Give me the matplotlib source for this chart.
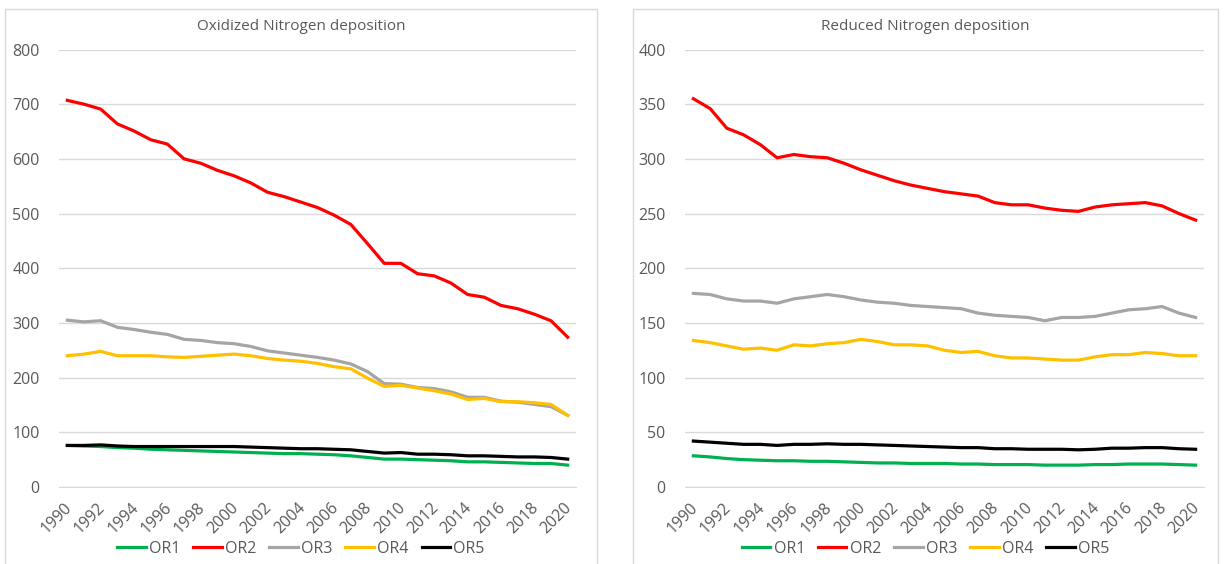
"""
Nitrogen deposition trends 1990-2020 for five regions (OR1-OR5):
oxidized and reduced nitrogen shown side by side.
"""

import numpy as np
import matplotlib
matplotlib.use("Agg")
import matplotlib.pyplot as plt
import matplotlib.transforms as mtransforms
from matplotlib.patches import Rectangle

# ------------------------------------------------------------------
# Data
# ------------------------------------------------------------------
years = list(range(1990, 2021))
series_names = ["OR1", "OR2", "OR3", "OR4", "OR5"]

# Oxidized nitrogen deposition
ox_or1 = [76, 75, 74, 72, 71, 69, 68, 67, 66, 65, 64, 63, 62, 61, 61, 60,
          59, 57, 54, 51, 51, 50, 49, 48, 46, 46, 45, 44, 43, 43, 40]
ox_or2 = [707, 700, 691, 664, 651, 635, 627, 600, 592, 579, 569, 556, 539,
          531, 521, 511, 497, 480, 445, 409, 409, 390, 386, 373, 352, 347,
          332, 326, 316, 304, 274]
ox_or3 = [305, 302, 304, 292, 288, 283, 279, 270, 268, 264, 262, 257, 249,
          245, 241, 237, 232, 225, 211, 189, 188, 182, 180, 174, 164, 164,
          157, 155, 151, 147, 131]
ox_or4 = [240, 243, 248, 240, 240, 240, 238, 237, 239, 241, 243, 240, 235,
          232, 230, 226, 220, 216, 199, 184, 186, 181, 176, 170, 160, 162,
          156, 156, 154, 151, 131]
ox_or5 = [76, 76, 77, 75, 74, 74, 74, 74, 74, 74, 74, 73, 72, 71, 70, 70,
          69, 68, 65, 62, 63, 60, 60, 59, 57, 57, 56, 55, 55, 54, 51]

# Reduced nitrogen deposition
red_or1 = [28.5, 27.5, 26, 25, 24.5, 24, 24, 23.5, 23.5, 23, 22.5, 22, 22,
           21.5, 21.5, 21.5, 21, 21, 20.5, 20.5, 20.5, 20, 20, 20, 20.5,
           20.5, 21, 21, 21, 20.5, 20]
red_or2 = [355, 346, 328, 322, 313, 301, 304, 302, 301, 296, 290, 285, 280,
           276, 273, 270, 268, 266, 260, 258, 258, 255, 253, 252, 256, 258,
           259, 260, 257, 250, 244]
red_or3 = [177, 176, 172, 170, 170, 168, 172, 174, 176, 174, 171, 169, 168,
           166, 165, 164, 163, 159, 157, 156, 155, 152, 155, 155, 156, 159,
           162, 163, 165, 159, 155]
red_or4 = [134, 132, 129, 126, 127, 125, 130, 129, 131, 132, 135, 133, 130,
           130, 129, 125, 123, 124, 120, 118, 118, 117, 116, 116, 119, 121,
           121, 123, 122, 120, 120]
red_or5 = [42, 41, 40, 39, 39, 38, 39, 39, 39.5, 39, 39, 38.5, 38, 37.5, 37,
           36.5, 36, 36, 35, 35, 34.5, 34.5, 34.5, 34, 34.5, 35.5, 35.5, 36,
           36, 35, 34.5]

line_colors = ["#00B050", "#FF0000", "#A5A5A5", "#FFC000", "#000000"]
text_color = "#595959"
grid_color = "#D9D9D9"
border_color = "#D9D9D9"

plt.rcParams["font.family"] = ["Open Sans", "DejaVu Sans"]

W, H = 1224, 564
fig = plt.figure(figsize=(W / 100, H / 100), dpi=100)


def px_box(x0, y0, x1, y1):
    """Pixel box (top-left origin) -> figure fraction [l, b, w, h]."""
    return [x0 / W, 1 - y1 / H, (x1 - x0) / W, (y1 - y0) / H]


# ------------------------------------------------------------------
# One chart panel
# ------------------------------------------------------------------
def draw_panel(frame, plot_box, title, data, ymax, ystep):
    # chart border
    fx0, fy0, fx1, fy1 = frame
    fig.add_artist(Rectangle((fx0 / W, 1 - fy1 / H), (fx1 - fx0) / W,
                             (fy1 - fy0) / H, transform=fig.transFigure,
                             fill=False, edgecolor=border_color, lw=1.0))

    ax = fig.add_axes(px_box(*plot_box))
    for name, values, color in zip(series_names, data, line_colors):
        ax.plot(years, values, color=color, lw=2.3, label=name,
                solid_joinstyle="round", zorder=3)

    ax.set_xlim(years[0] - 0.5, years[-1] + 0.5)
    ax.set_ylim(0, ymax)
    ax.set_yticks(np.arange(0, ymax + 1, ystep))
    ax.set_xticks(years[::2])
    ax.set_xticklabels([str(y) for y in years[::2]])
    ax.grid(axis="y", color=grid_color, lw=1.0, zorder=0)
    for side in ["top", "right", "left"]:
        ax.spines[side].set_visible(False)
    ax.spines["bottom"].set_color(grid_color)
    ax.tick_params(axis="both", length=0, colors=text_color, labelsize=11.5)
    ax.tick_params(axis="y", pad=14)
    ax.tick_params(axis="x", pad=13)

    shift = mtransforms.ScaledTranslation(2 / 100, 0, fig.dpi_scale_trans)
    for lbl in ax.get_xticklabels():
        lbl.set_rotation(45)
        lbl.set_ha("right")
        lbl.set_va("center")
        lbl.set_rotation_mode("anchor")
        lbl.set_transform(lbl.get_transform() + shift)

    fig.text(((fx0 + fx1) / 2) / W, 1 - 27 / H, title, ha="center",
             va="center", color=text_color, fontsize=11)

    fig.legend(*ax.get_legend_handles_labels(), loc="center",
               bbox_to_anchor=(((fx0 + fx1) / 2) / W, 1 - 549 / H),
               ncol=5, frameon=False, fontsize=11.5, labelcolor=text_color,
               handlelength=1.8, handletextpad=0.2, columnspacing=0.8,
               borderaxespad=0)
    return ax


draw_panel((5, 9, 597, 600), (59, 49.5, 576, 487),
           "Oxidized Nitrogen deposition",
           [ox_or1, ox_or2, ox_or3, ox_or4, ox_or5], 800, 100)
draw_panel((633, 9, 1218, 600), (685, 49.5, 1204, 487),
           "Reduced Nitrogen deposition",
           [red_or1, red_or2, red_or3, red_or4, red_or5], 400, 50)

fig.savefig("out.png", dpi=100, facecolor="white")
